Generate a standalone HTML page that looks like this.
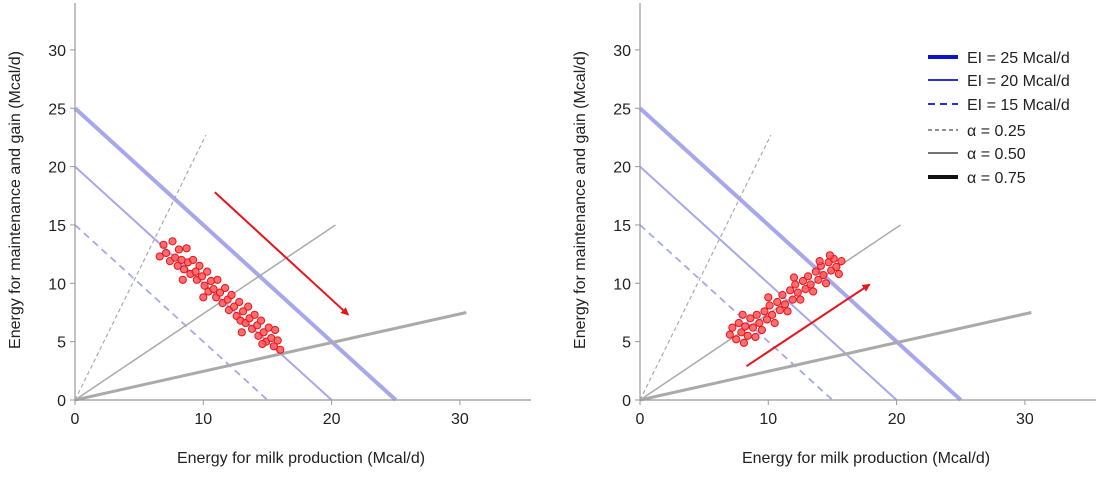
<!DOCTYPE html>
<html><head><meta charset="utf-8"><style>
body{margin:0;background:#fff;}
svg text{font-family:"Liberation Sans",sans-serif;fill:#222;}
</style></head><body>
<svg id="chart" width="1100" height="472" viewBox="0 0 1100 472" xmlns="http://www.w3.org/2000/svg"></svg>
<script>
const xTicks=[0,10,20,30];
const yTicks=[0,5,10,15,20,25,30];
const eiLevels=[25,20,15];
const alphaEnds=[[10.2,22.7],[20.3,15],[30.5,7.5]];
const leftPts=[[6.6,12.3],[6.9,13.3],[7.1,12.6],[7.4,11.9],[7.6,13.6],[7.8,12.2],[8.0,11.5],[8.1,12.9],[8.3,12.0],[8.5,11.2],[8.7,13.0],[8.8,11.8],[9.0,10.8],[9.2,12.0],[9.4,11.0],[9.5,10.3],[9.7,11.5],[9.9,10.6],[10.1,9.8],[10.3,11.0],[10.4,9.3],[10.6,10.2],[10.8,9.5],[11.0,8.8],[11.1,10.3],[11.3,9.2],[11.5,8.3],[11.7,9.6],[11.9,8.6],[12.0,7.7],[12.2,9.0],[12.4,8.0],[12.6,7.2],[12.8,8.4],[12.9,6.8],[13.1,7.6],[13.3,6.6],[13.5,8.0],[13.6,7.0],[13.8,6.1],[14.0,7.3],[14.2,6.4],[14.3,5.5],[14.5,6.8],[14.7,5.8],[14.9,5.0],[15.1,6.2],[15.3,5.3],[15.5,4.6],[15.6,6.0],[15.8,5.1],[16.0,4.3],[14.6,4.8],[13.0,5.8],[10.0,8.8],[8.4,10.3]];
const rightPts=[[7.0,5.6],[7.2,6.2],[7.5,5.2],[7.7,6.6],[7.9,5.8],[8.1,4.9],[8.2,6.3],[8.4,5.5],[8.6,7.0],[8.8,6.2],[9.0,5.4],[9.1,7.3],[9.3,6.6],[9.5,6.0],[9.7,7.6],[9.9,6.9],[10.1,8.1],[10.3,7.3],[10.5,6.6],[10.7,8.4],[10.9,7.7],[11.1,9.0],[11.3,8.2],[11.5,7.6],[11.7,9.4],[11.9,8.6],[12.1,9.9],[12.3,9.2],[12.5,8.6],[12.7,10.2],[12.9,9.5],[13.1,10.6],[13.3,9.9],[13.5,9.3],[13.7,11.0],[13.9,10.3],[14.1,11.5],[14.3,10.7],[14.5,10.0],[14.7,11.8],[14.9,11.1],[15.1,12.1],[15.3,11.4],[15.5,10.8],[15.7,11.9],[14.0,11.9],[12.0,10.5],[10.0,8.8],[8.0,7.3],[14.8,12.4]];
const leftArrow=[[10.9,17.8],[21.3,7.3]];
const rightArrow=[[8.3,2.9],[17.9,9.9]];

const svg=document.getElementById('chart');
const NS='http://www.w3.org/2000/svg';
function mk(t,a,p){const e=document.createElementNS(NS,t);for(const k in a)e.setAttribute(k,a[k]);(p||svg).appendChild(e);return e;}
const defs=mk('defs',{});
const mrk=mk('marker',{id:'ah',markerWidth:8,markerHeight:8,refX:7,refY:4,orient:'auto',markerUnits:'userSpaceOnUse'},defs);
mk('path',{d:'M0,0 L8,4 L0,8 Z',fill:'#e8141c'},mrk);

function panel(x0,name,pts,arr){
  const g=mk('g',{});
  
  
  const X=v=>x0+v*12.83, Y=v=>400-v*11.67;
  // EI lines
  eiLevels.forEach((e,i)=>{
    const l=mk('line',{x1:X(0),y1:Y(e),x2:X(e),y2:Y(0),stroke:'#a7a7ec','stroke-width':[4,2,1.8][i]},g);
    if(i==2)l.setAttribute('stroke-dasharray','7,5');
    
    
  });
  alphaEnds.forEach((p,i)=>{
    const l=mk('line',{x1:X(0),y1:Y(0),x2:X(p[0]),y2:Y(p[1]),stroke:'#aaa','stroke-width':[1.2,1.5,3][i]},g);
    if(i==0)l.setAttribute('stroke-dasharray','4,3');
    
    
  });
  // axes
  const ax=mk('path',{d:`M${X(0)},3 V400 H${x0+456}`,stroke:'#999','stroke-width':1.2,fill:'none'},g);
  
  
  xTicks.forEach(t=>{
    mk('line',{x1:X(t),y1:400,x2:X(t),y2:405,stroke:'#999'},g);
    const tx=mk('text',{x:X(t),y:424,'text-anchor':'middle','font-size':16},g);tx.textContent=t;
    
    
  });
  yTicks.forEach(t=>{
    mk('line',{x1:X(0)-5,y1:Y(t),x2:X(0),y2:Y(t),stroke:'#999'},g);
    const tx=mk('text',{x:X(0)-9,y:Y(t)+6,'text-anchor':'end','font-size':16},g);tx.textContent=t;
    
    
  });
  const xt=mk('text',{x:x0+226,y:463,'text-anchor':'middle','font-size':16},g);
  xt.textContent='Energy for milk production (Mcal/d)';
  
  
  const yt=mk('text',{x:0,y:0,'text-anchor':'middle','font-size':16,transform:`translate(${x0-55},200) rotate(-90)`},g);
  yt.textContent='Energy for maintenance and gain (Mcal/d)';
  
  
  pts.forEach(p=>{
    const c=mk('circle',{cx:X(p[0]),cy:Y(p[1]),r:3.6,fill:'#f55','fill-opacity':0.85,stroke:'#e8141c','stroke-width':1},g);
    
    
  });
  const a=mk('line',{x1:X(arr[0][0]),y1:Y(arr[0][1]),x2:X(arr[1][0]),y2:Y(arr[1][1]),stroke:'#e8141c','stroke-width':2,'marker-end':'url(#ah)'},g);
  
  
}
panel(75,'left-panel',leftPts,leftArrow);
panel(640,'right-panel',rightPts,rightArrow);

// legend
const lg=mk('g',{});


const legLabels=['EI = 25 Mcal/d','EI = 20 Mcal/d','EI = 15 Mcal/d','α = 0.25','α = 0.50','α = 0.75'];
const legY=[57,80,104,130,153,177];
const legStyle=[['#1010d0',4,''],['#1010d0',1.8,''],['#1010d0',1.8,'7,5'],['#222',1,'4,3'],['#222',1.2,''],['#111',4,'']];
legLabels.forEach((t,i)=>{
  const l=mk('line',{x1:928,y1:legY[i],x2:958,y2:legY[i],stroke:legStyle[i][0],'stroke-width':legStyle[i][1]},lg);
  if(legStyle[i][2])l.setAttribute('stroke-dasharray',legStyle[i][2]);
  
  
  const tx=mk('text',{x:967,y:legY[i]+6,'font-size':16},lg);tx.textContent=t;
  
  
});
</script>
</body></html>
